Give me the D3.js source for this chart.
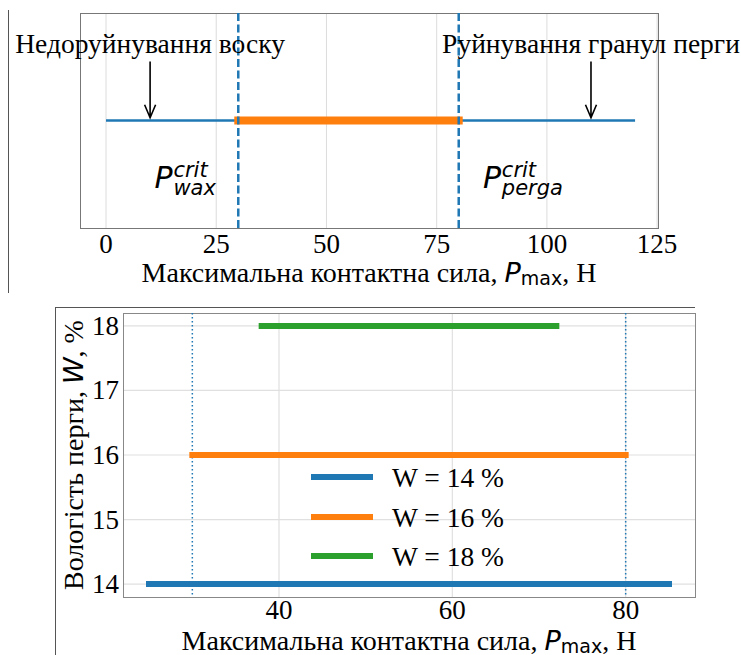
<!DOCTYPE html>
<html>
<head>
<meta charset="utf-8">
<script src="https://cdn.jsdelivr.net/npm/d3@7"></script>
<style>
  body { margin: 0; background: #fff; }
  svg { display: block; }
  text { font-family: "Liberation Serif", "Times New Roman", serif; fill: #000; }
  .math { font-family: "DejaVu Sans", sans-serif; }
</style>
</head>
<body>
<div id="chart"></div>
<script>
// ---- data ----
const topTicks = [0, 25, 50, 75, 100, 125];
const fullRange = [0, 120];          // whole force range, N
const workRange = [30, 80];          // working window, N
const critForces = [30, 80];         // P_wax^crit, P_perga^crit
const annotations = [
    { label: "Недоруйнування воску", x: 10 },
    { label: "Руйнування гранул перги", x: 110 }
];
const critLabels = [
    { sub: "wax", x: 11 },
    { sub: "perga", x: 85.5 }
];

const moisture = [14, 16, 18];       // W, %
const forceMin = [25, 30, 38];
const forceMax = [85, 80, 72];
const seriesNames = ["W = 14 %", "W = 16 %", "W = 18 %"];
const bottomXTicks = [40, 60, 80];
const bottomYTicks = [14, 15, 16, 17, 18];

const blue = "#1f77b4", orange = "#ff7f0e", green = "#2ca02c";
const colors = [blue, orange, green];

const width = 741, height = 655;
const svg = d3.select("#chart").append("svg")
    .attr("width", width)
    .attr("height", height);

// stray border line from the cropped figure
svg.append("line")
    .attr("x1", 8.5).attr("x2", 8.5).attr("y1", 10).attr("y2", 293)
    .attr("stroke", "#555").attr("stroke-width", 1);

// P with sup/sub, mathtext-ish, one text element
function mathP(g, x, y, sup, sub, size) {
    const w = size * 0.63;
    const t = g.append("text").attr("class", "math").attr("x", x).attr("y", y)
        .style("font-size", size + "px").style("font-style", "italic");
    t.append("tspan").text("P");
    t.append("tspan").attr("x", x + w).attr("y", y - size * 0.36)
        .style("font-size", size * 0.7 + "px").text(sup);
    t.append("tspan").attr("x", x + w).attr("y", y + size * 0.24)
        .style("font-size", size * 0.7 + "px").text(sub);
}

function forceLabel(g, x, y) {
    const t = g.append("text")
        .attr("x", x).attr("y", y)
        .attr("text-anchor", "middle")
        .style("font-size", "28px");
    t.append("tspan").text("Максимальна контактна сила, ");
    t.append("tspan").attr("class", "math").style("font-style", "italic").style("font-size", "27px").text("P");
    t.append("tspan").attr("class", "math").attr("dy", 3).style("font-size", "19px").text("max");
    t.append("tspan").attr("dy", -3).text(", Н");
}

// ================= top chart =================
const topBox = { left: 80, right: 658, top: 13, bottom: 228 };
const xTop = d3.scaleLinear().domain([-5.9, 125.2]).range([topBox.left, topBox.right]);
const yTop = d3.scaleLinear().domain([-1, 1]).range([topBox.bottom, topBox.top]);

const gTop = svg.append("g");

gTop.selectAll(".vgrid").data(topTicks).enter().append("line")
    .attr("x1", d => xTop(d)).attr("x2", d => xTop(d))
    .attr("y1", topBox.top).attr("y2", topBox.bottom)
    .attr("stroke", "#dcdcdc").attr("stroke-width", 1);

gTop.selectAll(".tlabel").data(topTicks).enter().append("text")
    .attr("x", d => xTop(d)).attr("y", 253)
    .attr("text-anchor", "middle")
    .style("font-size", "27px")
    .text(d => d);

gTop.append("rect")
    .attr("x", topBox.left + 0.5).attr("y", topBox.top + 0.5)
    .attr("width", topBox.right - topBox.left).attr("height", topBox.bottom - topBox.top)
    .attr("fill", "none").attr("stroke", "#777").attr("stroke-width", 1);

gTop.append("line")
    .attr("x1", xTop(fullRange[0])).attr("x2", xTop(fullRange[1]))
    .attr("y1", yTop(0)).attr("y2", yTop(0))
    .attr("stroke", blue).attr("stroke-width", 2.5);

gTop.append("line")
    .attr("x1", xTop(workRange[0])).attr("x2", xTop(workRange[1]))
    .attr("y1", yTop(0)).attr("y2", yTop(0))
    .attr("stroke", orange).attr("stroke-width", 8)
    .attr("stroke-linecap", "square");

gTop.selectAll(".crit").data(critForces).enter().append("line")
    .attr("x1", d => xTop(d)).attr("x2", d => xTop(d))
    .attr("y1", topBox.top).attr("y2", topBox.bottom)
    .attr("stroke", blue).attr("stroke-width", 2.5)
    .attr("stroke-dasharray", "8,3.5");

annotations.forEach(a => {
    const ax = xTop(a.x);
    gTop.append("text")
        .attr("x", ax).attr("y", yTop(0.63))
        .attr("text-anchor", "middle")
        .style("font-size", "27.5px")
        .text(a.label);
    const y0 = yTop(0.55), y1 = yTop(0.025);
    gTop.append("path")
        .attr("d", `M${ax},${y0}L${ax},${y1}M${ax - 5.5},${y1 - 13}L${ax},${y1}L${ax + 5.5},${y1 - 13}`)
        .attr("fill", "none").attr("stroke", "#000").attr("stroke-width", 1.6);
});

critLabels.forEach(c => mathP(gTop, xTop(c.x), yTop(-0.63), "crit", c.sub, 30));

forceLabel(gTop, (topBox.left + topBox.right) / 2, 282);

// ================= bottom chart =================
const bot = { left: 123, right: 695, top: 313, bottom: 597 };
const xB = d3.scaleLinear().domain([22, 88]).range([bot.left, bot.right]);
const yB = d3.scaleLinear().domain([13.8, 18.2]).range([bot.bottom, bot.top]);

const gB = svg.append("g");

// outer frame fragments
gB.append("line").attr("x1", 55).attr("x2", 695).attr("y1", 307.5).attr("y2", 307.5)
    .attr("stroke", "#555").attr("stroke-width", 1);
gB.append("line").attr("x1", 55.5).attr("x2", 55.5).attr("y1", 307).attr("y2", 655)
    .attr("stroke", "#555").attr("stroke-width", 1);

gB.selectAll(".xg").data(bottomXTicks).enter().append("line")
    .attr("x1", d => xB(d)).attr("x2", d => xB(d))
    .attr("y1", bot.top).attr("y2", bot.bottom)
    .attr("stroke", "#e0e0e0").attr("stroke-width", 1.2);
gB.selectAll(".yg").data(bottomYTicks).enter().append("line")
    .attr("x1", bot.left).attr("x2", bot.right)
    .attr("y1", d => yB(d)).attr("y2", d => yB(d))
    .attr("stroke", "#e0e0e0").attr("stroke-width", 1.2);

gB.append("rect")
    .attr("x", bot.left + 0.5).attr("y", bot.top + 0.5)
    .attr("width", bot.right - bot.left).attr("height", bot.bottom - bot.top)
    .attr("fill", "none").attr("stroke", "#888").attr("stroke-width", 1);

gB.selectAll(".xl").data(bottomXTicks).enter().append("text")
    .attr("x", d => xB(d)).attr("y", 619)
    .attr("text-anchor", "middle").style("font-size", "27px")
    .text(d => d);
gB.selectAll(".yl").data(bottomYTicks).enter().append("text")
    .attr("x", 119).attr("y", d => yB(d) + 9)
    .attr("text-anchor", "end").style("font-size", "27px")
    .text(d => d);

gB.selectAll(".crit").data(critForces).enter().append("line")
    .attr("x1", d => xB(d)).attr("x2", d => xB(d))
    .attr("y1", bot.top).attr("y2", bot.bottom)
    .attr("stroke", blue).attr("stroke-width", 1.5)
    .attr("stroke-dasharray", "1.5,2.5");

gB.selectAll(".range").data(moisture).enter().append("line")
    .attr("x1", (d, i) => xB(forceMin[i])).attr("x2", (d, i) => xB(forceMax[i]))
    .attr("y1", d => yB(d)).attr("y2", d => yB(d))
    .attr("stroke", (d, i) => colors[i]).attr("stroke-width", 6)
    .attr("stroke-linecap", "square");

// legend
const legY = [477, 517, 556];
seriesNames.forEach((name, i) => {
    gB.append("line")
        .attr("x1", 314).attr("x2", 370).attr("y1", legY[i]).attr("y2", legY[i])
        .attr("stroke", colors[i]).attr("stroke-width", 6)
        .attr("stroke-linecap", "square");
    gB.append("text")
        .attr("x", 392).attr("y", legY[i] + 10)
        .style("font-size", "27.5px")
        .text(name);
});

forceLabel(gB, (bot.left + bot.right) / 2, 650);

const ylab = gB.append("text")
    .attr("transform", "translate(83,455) rotate(-90)")
    .attr("text-anchor", "middle")
    .style("font-size", "28px");
ylab.append("tspan").text("Вологість перги, ");
ylab.append("tspan").attr("class", "math").style("font-style", "italic").style("font-size", "27px").text("W");
ylab.append("tspan").text(", %");
</script>
</body>
</html>
